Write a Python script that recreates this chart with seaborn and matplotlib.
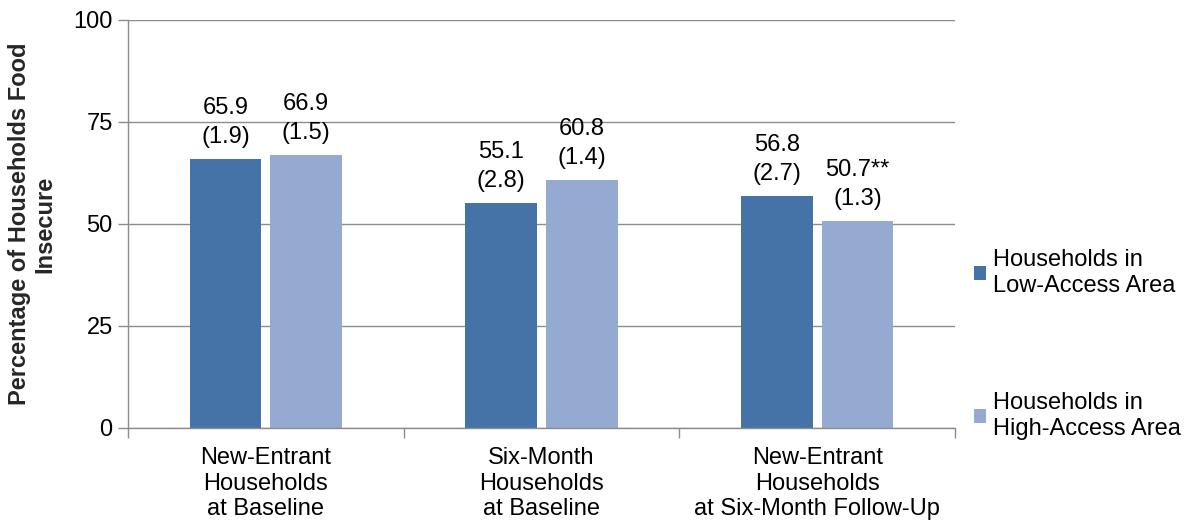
import matplotlib
matplotlib.use("Agg")
import matplotlib.pyplot as plt
import seaborn as sns
import pandas as pd
from matplotlib.ticker import FixedLocator

categories = ["New-Entrant\nHouseholds\nat Baseline",
              "Six-Month\nHouseholds\nat Baseline",
              "New-Entrant\nHouseholds\nat Six-Month Follow-Up"]
series_names = ["Households in\nLow-Access Area", "Households in\nHigh-Access Area"]
low_access = [65.9, 55.1, 56.8]
high_access = [66.9, 60.8, 50.7]
low_se = ["1.9", "2.8", "2.7"]
high_se = ["1.5", "1.4", "1.3"]
high_marks = ["", "", "**"]

colors = ["#4673A7", "#95AAD1"]
FS = 17

df = pd.DataFrame({
    "category": categories * 2,
    "series": [series_names[0]] * 3 + [series_names[1]] * 3,
    "value": low_access + high_access,
})

sns.set_style("white")
plt.rcParams["font.family"] = ["Liberation Sans", "DejaVu Sans"]
plt.rcParams["text.color"] = "black"
plt.rcParams["xtick.labelcolor"] = "black"
plt.rcParams["ytick.labelcolor"] = "black"

fig = plt.figure(figsize=(11.85, 5.23), dpi=100)
ax = fig.add_axes([128 / 1185, 1 - 428 / 523, (955 - 128) / 1185, (428 - 20) / 523])

sns.barplot(data=df, x="category", y="value", hue="series", palette=colors,
            width=0.585, gap=0.11, saturation=1, ax=ax, legend=True,
            edgecolor="none", linewidth=0)

# value labels with standard errors above each bar
label_sets = [
    [f"{v:.1f}\n({s})" for v, s in zip(low_access, low_se)],
    [f"{v:.1f}{m}\n({s})" for v, s, m in zip(high_access, high_se, high_marks)],
]
for cont, labels in zip(ax.containers, label_sets):
    ax.bar_label(cont, labels=labels, padding=8, fontsize=FS,
                 linespacing=1.4, color="black")

ax.set_ylim(0, 100)
ax.set_xlim(-0.5, 2.5)
ax.set_yticks([0, 25, 50, 75, 100])
ax.yaxis.grid(True, color="#8C8C8C", linewidth=1)
ax.set_axisbelow(True)
ax.tick_params(axis="y", labelsize=FS, length=7, color="#8C8C8C", width=1,
               direction="out", left=True, pad=4)
ax.tick_params(axis="x", which="major", labelsize=FS, length=0, pad=14)
ax.xaxis.set_minor_locator(FixedLocator([-0.5, 0.5, 1.5, 2.5]))
ax.tick_params(axis="x", which="minor", length=7, color="#8C8C8C", width=1,
               direction="out", bottom=True)
for lbl in ax.get_xticklabels():
    lbl.set_linespacing(1.2)

for side in ["top", "right"]:
    ax.spines[side].set_visible(False)
for side in ["left", "bottom"]:
    ax.spines[side].set_color("#8C8C8C")
    ax.spines[side].set_linewidth(1)

ax.set_xlabel("")
ax.set_ylabel("Percentage of Households Food\nInsecure", fontsize=FS,
              fontweight="bold", labelpad=12, linespacing=1.15)

handles, labels = ax.get_legend_handles_labels()
ax.legend(handles, labels, loc="center left", bbox_to_anchor=(1.0, 0.205),
          frameon=False, fontsize=FS, handlelength=0.48, handleheight=0.48,
          handletextpad=0.3, labelspacing=4.05, borderaxespad=0.42)

fig.savefig("out.png", dpi=100)
